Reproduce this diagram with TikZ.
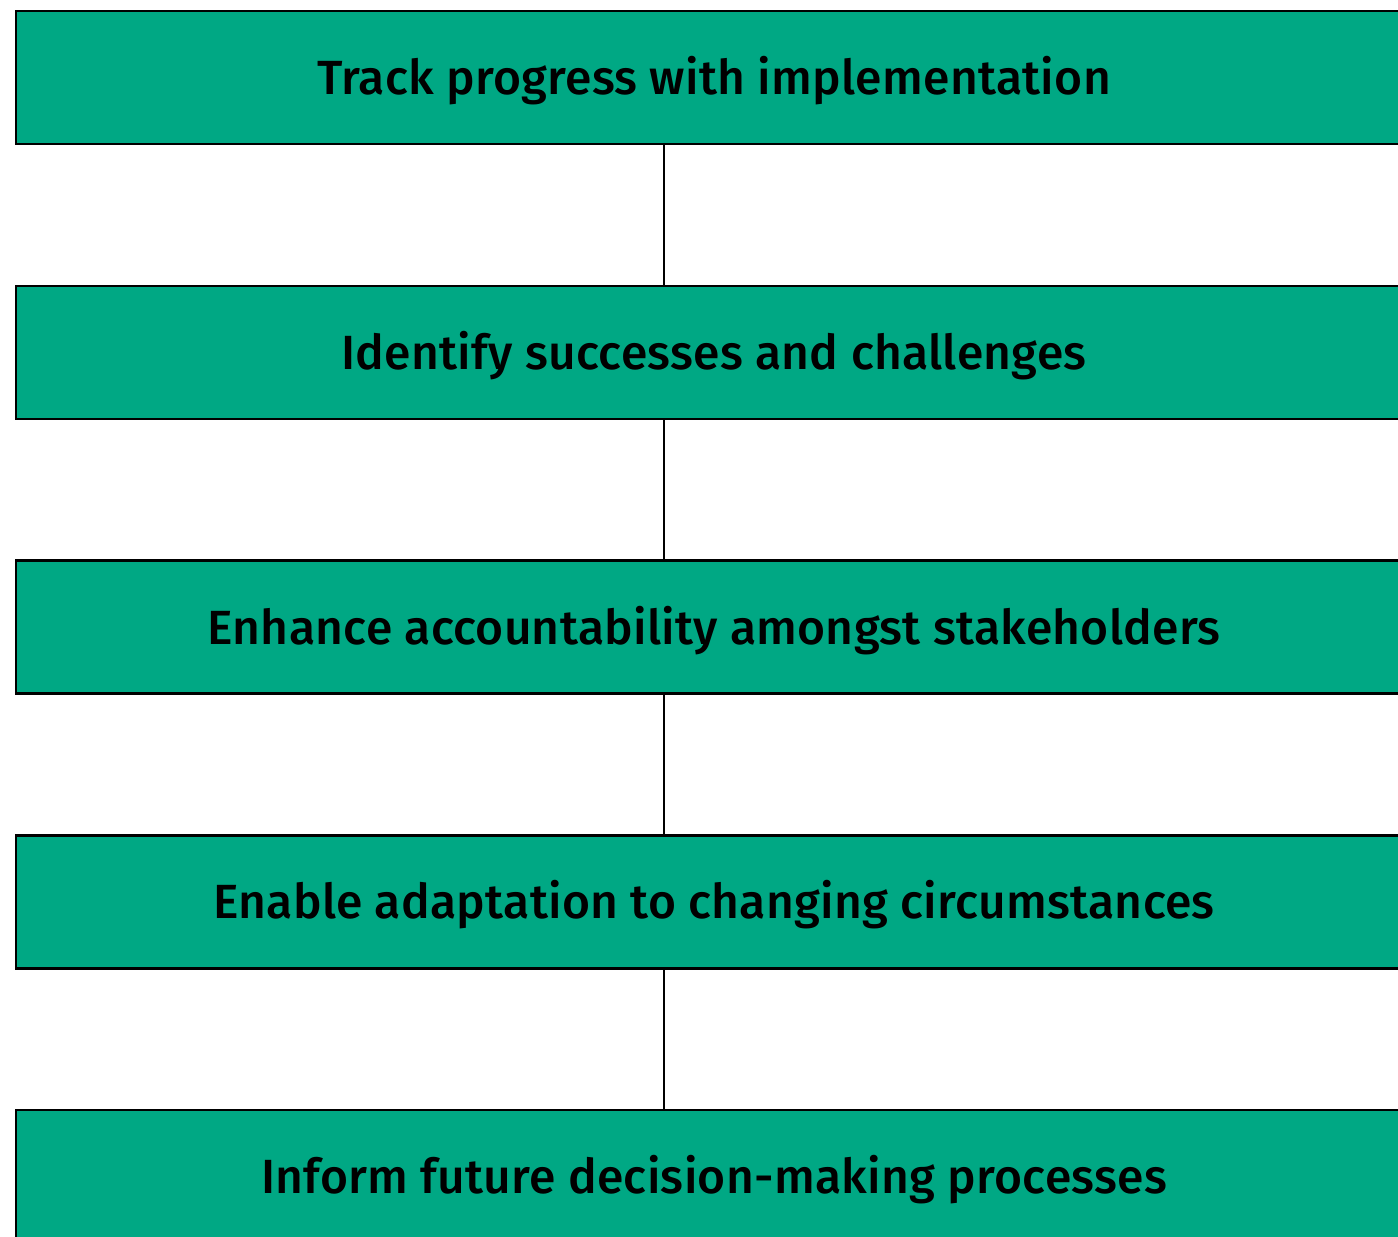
\documentclass[tikz,border=0pt]{standalone}
\usepackage{fontspec}
\setmainfont{Fira Sans}[UprightFont=* Medium,LetterSpace=0.6]
\definecolor{boxgreen}{RGB}{0,168,132}
\begin{document}
\begin{tikzpicture}[x=1pt,y=-1pt,
  stepbox/.style={draw=black,line width=2.6pt,fill=boxgreen,minimum width=1396pt,minimum height=133pt,inner sep=0pt,
    font=\fontsize{48}{50}\selectfont,text height=40pt,text depth=6pt},
  conn/.style={draw=black,line width=2.6pt}]
\useasboundingbox (0,0) rectangle (1398,1237);
\clip (0,0) rectangle (1398,1237);
\fill[white] (0,0) rectangle (1398,1237);
\node[stepbox] (b1) at (714,77.5) {Track progress with implementation};
\node[stepbox] (b2) at (714,352.3) {Identify successes and challenges};
\node[stepbox] (b3) at (714,627) {Enhance accountability amongst stakeholders};
\node[stepbox] (b4) at (714,901.8) {Enable adaptation to changing circumstances};
\node[stepbox] (b5) at (714,1176.5) {Inform future decision-making processes};
\coordinate (c) at (664,0);
\draw[conn] (b1.south -| c) -- (b2.north -| c);
\draw[conn] (b2.south -| c) -- (b3.north -| c);
\draw[conn] (b3.south -| c) -- (b4.north -| c);
\draw[conn] (b4.south -| c) -- (b5.north -| c);
\end{tikzpicture}
\end{document}
